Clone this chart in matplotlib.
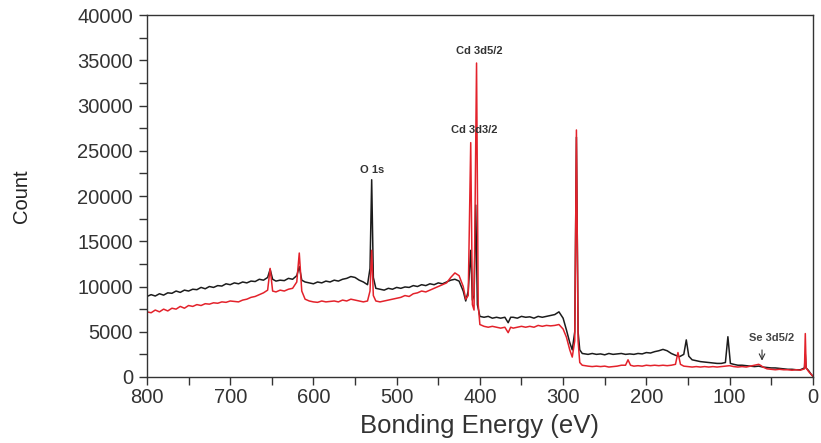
import matplotlib
matplotlib.use("Agg")
import matplotlib.pyplot as plt
from matplotlib.ticker import MultipleLocator

plt.rcParams['font.family'] = ['Liberation Sans', 'DejaVu Sans']

# Black spectrum (binding energy in eV, counts)
black_energy = [800, 795, 790, 785, 780, 775, 770, 765, 760, 755, 750, 745, 740, 735, 730, 725, 720, 715, 710, 705,
                700, 695, 690, 685, 680, 675, 670, 665, 660, 655, 652, 649, 645, 640, 635, 630, 625, 620, 617, 614,
                610, 605, 600, 595, 590, 585, 580, 575, 570, 565, 560, 555, 550, 545, 540, 535, 532, 530, 528, 525,
                520, 515, 510, 505, 500, 495, 490, 485, 480, 475, 470, 465, 460, 455, 450, 445, 440, 435, 430, 425,
                420, 417, 414, 411, 409, 407, 405, 403, 400, 395, 390, 385, 380, 375, 370, 366, 363, 360, 355, 350,
                345, 340, 335, 330, 325, 320, 315, 310, 305, 300, 296, 292, 289, 286, 284, 282, 280, 277, 270, 265,
                260, 255, 250, 245, 240, 235, 230, 225, 220, 215, 210, 205, 200, 195, 190, 185, 180, 175, 170, 165,
                160, 155, 152, 149, 145, 140, 135, 130, 125, 120, 115, 110, 105, 102, 99, 95, 90, 85, 80, 75,
                70, 65, 60, 55, 50, 45, 40, 35, 30, 25, 20, 15, 10, 9, 8, 5, 2, 0]
black_count = [8900, 9100, 8950, 9200, 9050, 9300, 9250, 9500, 9350, 9600, 9500, 9700, 9650, 9900, 9750, 10000, 9900, 10100, 10050, 10300,
               10200, 10400, 10300, 10500, 10400, 10600, 10550, 10800, 10700, 11000, 11900, 10800, 10600, 10700, 10650, 10900, 10800, 11200, 12200, 10700,
               10500, 10400, 10300, 10500, 10400, 10600, 10500, 10700, 10600, 10800, 10900, 11100, 11000, 10700, 10500, 10200, 12000, 21800, 11000, 9800,
               9700, 9600, 9800, 9700, 9900, 9800, 9950, 9900, 10100, 10000, 10200, 10100, 10300, 10200, 10400, 10300, 10500, 10700, 10800, 10600,
               9500, 8400, 9500, 14000, 8500, 9000, 19000, 8000, 6700, 6600, 6700, 6500, 6600, 6500, 6600, 6000, 6600, 6600, 6500, 6700,
               6600, 6650, 6500, 6700, 6600, 6700, 6800, 6900, 7200, 6500, 5200, 3800, 3000, 5000, 26500, 5000, 3000, 2600, 2500, 2600,
               2500, 2550, 2450, 2600, 2500, 2550, 2600, 2500, 2550, 2500, 2600, 2550, 2700, 2650, 2800, 2900, 3050, 2900, 2600, 2400,
               2250, 2500, 4100, 2300, 1900, 1800, 1700, 1650, 1600, 1550, 1500, 1500, 1600, 4450, 1500, 1400, 1300, 1300, 1250, 1200,
               1150, 1200, 1100, 1050, 1000, 1000, 950, 900, 850, 850, 800, 800, 1000, 2500, 1000, 700, 300, 100]

# Red spectrum
red_energy = [800, 795, 790, 785, 780, 775, 770, 765, 760, 755, 750, 745, 740, 735, 730, 725, 720, 715, 710, 705,
              700, 695, 690, 685, 680, 675, 670, 665, 660, 655, 652, 649, 645, 640, 635, 630, 625, 620, 617, 614,
              610, 605, 600, 595, 590, 585, 580, 575, 570, 565, 560, 555, 550, 545, 540, 535, 532, 530, 528, 525,
              520, 515, 510, 505, 500, 495, 490, 485, 480, 475, 470, 465, 460, 455, 450, 445, 440, 435, 430, 425,
              420, 417, 414, 411, 409, 407, 404, 402, 400, 395, 390, 385, 380, 375, 370, 366, 363, 360, 355, 350,
              345, 340, 335, 330, 325, 320, 315, 310, 305, 300, 296, 292, 289, 286, 284, 282, 280, 277, 270, 265,
              260, 255, 250, 245, 240, 235, 230, 225, 222, 219, 215, 210, 205, 200, 195, 190, 185, 180, 175, 170,
              165, 162, 159, 155, 150, 145, 140, 135, 130, 125, 120, 115, 110, 105, 100, 95, 90, 85, 80, 75,
              70, 65, 62, 60, 55, 50, 45, 40, 35, 30, 25, 20, 15, 10, 9, 8, 5, 2, 0]
red_count = [7200, 7100, 7400, 7200, 7500, 7300, 7600, 7500, 7800, 7600, 7900, 7800, 8000, 7900, 8100, 8050, 8200, 8150, 8300, 8250,
             8400, 8350, 8300, 8500, 8600, 8800, 8900, 9100, 9300, 9600, 12000, 9500, 9400, 9600, 9500, 9700, 9800, 10500, 13700, 9500,
             8600, 8400, 8300, 8250, 8400, 8300, 8350, 8400, 8300, 8500, 8400, 8600, 8500, 8400, 8300, 8400, 9500, 14000, 9000, 8400,
             8300, 8400, 8500, 8600, 8700, 8800, 9000, 8900, 9200, 9300, 9500, 9400, 9600, 9800, 10000, 10200, 10400, 11000, 11500, 11200,
             10000, 8600, 9000, 25900, 8000, 7400, 34700, 8000, 5800, 5600, 5500, 5600, 5500, 5400, 5500, 4900, 5500, 5400, 5500, 5600,
             5500, 5600, 5500, 5700, 5600, 5700, 5650, 5700, 5800, 5300, 4400, 3000, 2200, 4000, 27300, 4000, 1600, 1300, 1200, 1150,
             1200, 1150, 1200, 1100, 1150, 1200, 1300, 1300, 1900, 1300, 1200, 1250, 1200, 1300, 1250, 1300, 1250, 1300, 1250, 1300,
             1400, 2700, 1400, 1200, 1150, 1100, 1150, 1100, 1150, 1100, 1150, 1100, 1150, 1200, 1250, 1150, 1100, 1150, 1100, 1200,
             1300, 1400, 1250, 1100, 900, 850, 800, 850, 800, 800, 750, 800, 750, 900, 4800, 1000, 600, 300, 100]

# Peak annotations: (label, energy, count)
peak_labels = ["O 1s", "Cd 3d3/2", "Cd 3d5/2"]
peak_label_energy = [530, 407, 401]
peak_label_count = [22300, 26700, 35500]

se_label = "Se 3d5/2"
se_text_energy = 50
se_text_count = 3800
se_arrow_from = (61, 3300)
se_arrow_to = (61, 1500)

x_ticks = [800, 700, 600, 500, 400, 300, 200, 100, 0]
y_ticks = [0, 5000, 10000, 15000, 20000, 25000, 30000, 35000, 40000]

fig = plt.figure(figsize=(8.21, 4.43), dpi=100)
ax = fig.add_axes([0.179, 0.149, 0.811, 0.817])

ax.plot(black_energy, black_count, color='#1c1c1c', lw=1.1)
ax.plot(red_energy, red_count, color='#e3222b', lw=1.1)

ax.set_xlim(800, 0)
ax.set_ylim(0, 40000)
ax.set_xticks(x_ticks)
ax.set_yticks(y_ticks)
ax.xaxis.set_minor_locator(MultipleLocator(50))
ax.yaxis.set_minor_locator(MultipleLocator(2500))
ax.tick_params(axis='both', which='major', labelsize=14.5, length=6, width=1, direction='out', colors='#333333',
               labelcolor='#333333')
ax.tick_params(axis='both', which='minor', length=6, width=1, direction='out', colors='#333333')
ax.tick_params(axis='x', pad=2)
ax.tick_params(axis='y', pad=4)
for s in ax.spines.values():
    s.set_color('#333333')
    s.set_linewidth(1.0)

ax.set_xlabel("Bonding Energy (eV)", fontsize=18.5, color='#333333', labelpad=5)
ax.set_ylabel("Count", fontsize=14.5, color='#222222', labelpad=33)

for lab, e, c in zip(peak_labels, peak_label_energy, peak_label_count):
    ax.text(e, c, lab, fontsize=8, fontweight='bold', color='#333333', ha='center', va='bottom')

ax.text(se_text_energy, se_text_count, se_label, fontsize=8, fontweight='bold', color='#444444',
        ha='center', va='bottom')
ax.annotate("", xy=se_arrow_to, xytext=se_arrow_from,
            arrowprops=dict(arrowstyle='->', color='#333333', lw=0.8))

fig.savefig("out.png", dpi=100)
